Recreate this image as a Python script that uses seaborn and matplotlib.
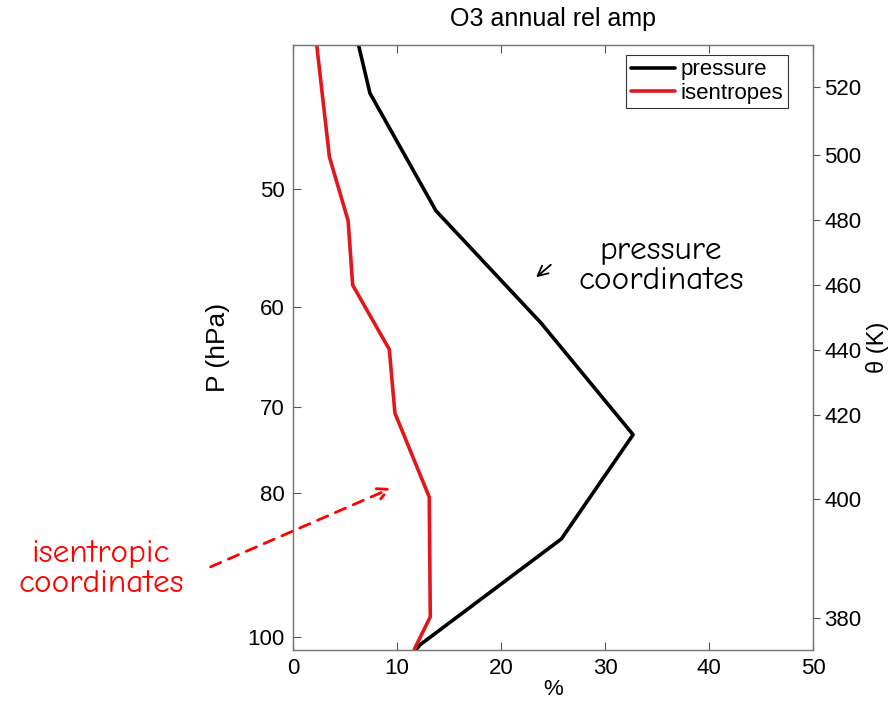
import matplotlib
matplotlib.use("Agg")
import matplotlib.pyplot as plt
import matplotlib.ticker as mticker
import matplotlib.patches as mpatches
import seaborn as sns
import pandas as pd

# ---- data ----
pressure_pct = [6.3, 7.4, 13.75, 23.85, 32.7, 25.8, 12.2, 11.8]
pressure_p = [40.0, 43.1, 51.7, 61.5, 73.1, 85.9, 101.2, 102.0]

isen_pct = [2.28, 3.5, 5.3, 5.74, 9.26, 9.8, 13.1, 13.2, 11.66]
isen_p = [40.0, 47.56, 52.5, 58.0, 64.06, 70.7, 80.5, 96.9, 101.9]

p_ticks = [50, 60, 70, 80, 100]
x_ticks = [0, 10, 20, 30, 40, 50]
theta_labels = [380, 400, 420, 440, 460, 480, 500, 520]
theta_p = [97.0, 80.8, 70.9, 64.1, 58.0, 52.45, 47.4, 42.7]

df = pd.concat([
    pd.DataFrame({"pct": pressure_pct, "p": pressure_p, "series": "pressure"}),
    pd.DataFrame({"pct": isen_pct, "p": isen_p, "series": "isentropes"}),
], ignore_index=True)

sns.set_theme(style="white")
plt.rcParams["font.family"] = ["Liberation Sans", "DejaVu Sans"]
plt.rcParams["text.color"] = "black"
plt.rcParams["axes.labelcolor"] = "black"
plt.rcParams["xtick.color"] = "black"
plt.rcParams["ytick.color"] = "black"

fig = plt.figure(figsize=(8.9, 7.05), dpi=100)
ax = fig.add_axes([293 / 890, 1 - 650 / 705, 520 / 890, 605 / 705])

sns.lineplot(data=df, x="pct", y="p", hue="series", sort=False, estimator=None,
             palette={"pressure": "black", "isentropes": "#e3161c"},
             linewidth=2.6, ax=ax)

ax.set_yscale("log")
ax.set_ylim(102.0, 40.0)
ax.set_xlim(0, 50)
ax.set_yticks(p_ticks)
ax.set_yticklabels([str(v) for v in p_ticks])
ax.yaxis.set_minor_locator(mticker.NullLocator())
ax.set_xticks(x_ticks)
ax.set_xticklabels([str(v) for v in x_ticks])
ax.tick_params(axis="both", which="major", direction="in", length=6, width=0.8,
               color="#555555", labelcolor="black", labelsize=16, top=True,
               bottom=True, left=True, right=False, pad=6)
ax.set_xlabel("%", fontsize=16, labelpad=0)
ax.set_ylabel("P (hPa)", fontsize=19)
ax.yaxis.set_label_coords((230 - 293) / 520, 0.5)
for s in ax.spines.values():
    s.set_color("#777777")
    s.set_linewidth(0.9)

fig.text(553 / 890, 1 - 19 / 705, "O3 annual rel amp", ha="center", va="center",
         fontsize=18, color="black")

leg = ax.legend(loc="upper right", bbox_to_anchor=((788 - 293) / 520, (650 - 55) / 605),
                borderaxespad=0, fontsize=16, frameon=True, fancybox=False,
                handlelength=2.0, handletextpad=0.25, borderpad=0.2,
                labelspacing=0.1)
leg.get_frame().set_edgecolor("black")
leg.get_frame().set_linewidth(0.8)
leg.set_title(None)

ax2 = ax.twinx()
ax2.set_yscale("log")
ax2.set_ylim(102.0, 40.0)
ax2.set_yticks(theta_p)
ax2.set_yticklabels([str(v) for v in theta_labels])
ax2.yaxis.set_minor_locator(mticker.NullLocator())
ax2.tick_params(axis="y", which="major", direction="out", length=5, width=0.8,
                color="#555555", labelcolor="black", labelsize=16, pad=3)
ax2.set_ylabel("\u03b8 (K)", fontsize=17)
ax2.yaxis.set_label_coords((866 - 293) / 520, 0.5)
for s in ax2.spines.values():
    s.set_color("#777777")
    s.set_linewidth(0.9)

# annotations
anno_font = ["Comic Neue", "DejaVu Sans"]
fig.text(661 / 890, 1 - 266 / 705, "pressure\ncoordinates", ha="center", va="center",
         fontsize=24, color="black", family=anno_font, linespacing=1.05)
fig.add_artist(mpatches.FancyArrowPatch(
    (553 / 890, 1 - 263 / 705), (534 / 890, 1 - 279 / 705),
    transform=fig.transFigure, arrowstyle="->", mutation_scale=18,
    color="black", linewidth=1.3))

fig.text(101 / 890, 1 - 569 / 705, "isentropic\ncoordinates", ha="center", va="center",
         fontsize=24, color="#ff0000", family=anno_font, linespacing=1.05)
fig.add_artist(mpatches.FancyArrowPatch(
    (208 / 890, 1 - 568 / 705), (394 / 890, 1 - 487 / 705),
    transform=fig.transFigure, arrowstyle="->", mutation_scale=20,
    color="#ff0000", linewidth=2.0, linestyle=(0, (4, 3))))

fig.savefig("out.png", dpi=100, facecolor="white")
